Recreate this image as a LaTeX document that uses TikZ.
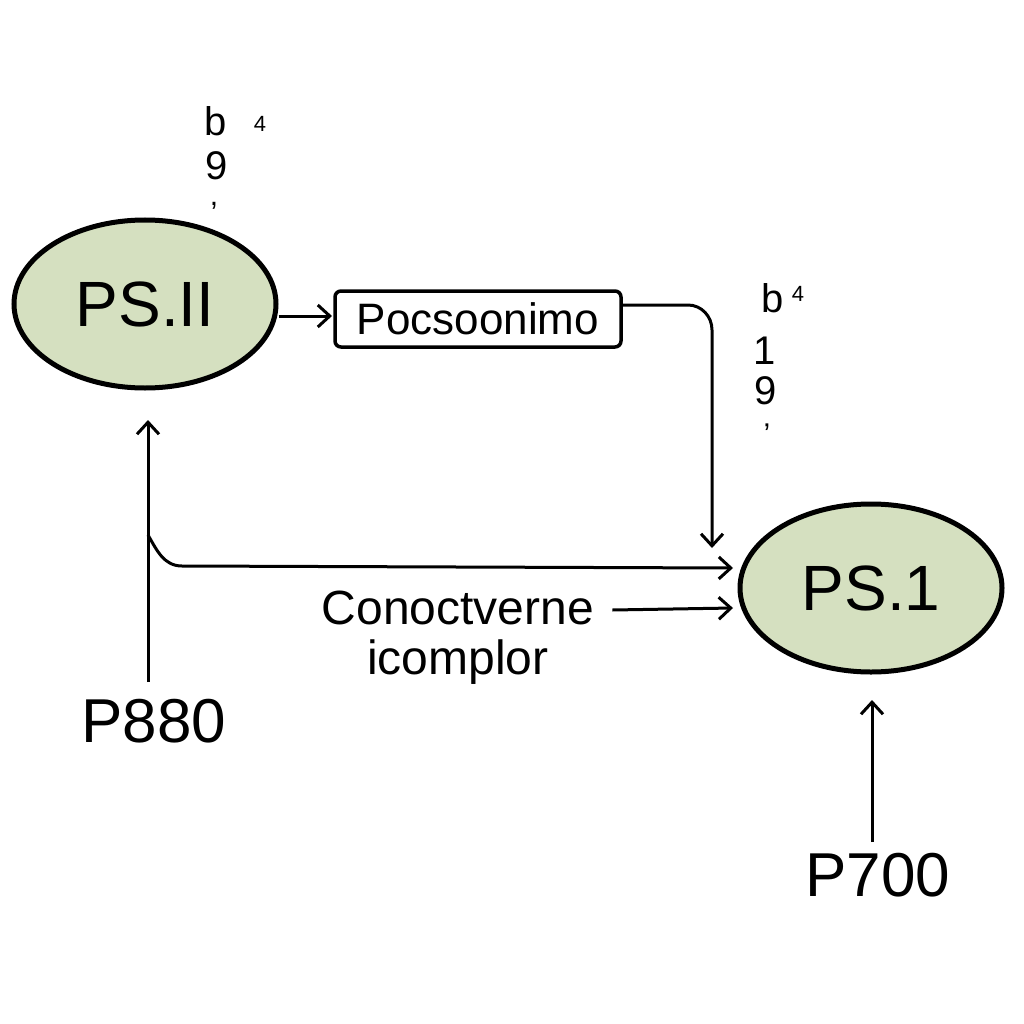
\documentclass[tikz,border=0pt]{standalone}
\usepackage{fontspec}
\setmainfont{Liberation Sans}
\usetikzlibrary{shapes.geometric,arrows.meta}
\definecolor{psgreen}{HTML}{D5E0C0}
\tikzset{
  psnode/.style={ellipse,draw=black,line width=5pt,fill=psgreen,minimum width=262pt,minimum height=168pt,inner sep=0pt,font=\fontsize{64}{68}\selectfont},
  boxnode/.style={draw=black,line width=3.5pt,rounded corners=6pt,minimum width=286pt,minimum height=56pt,inner sep=0pt,font=\fontsize{44}{48}\selectfont},
  lbl/.style={inner sep=0pt,font=\fontsize{62}{66}\selectfont},
  conn/.style={line width=3pt,draw=black},
  arr/.style={conn,-{Straight Barb[length=12pt,width=22pt,line width=3pt]}},
  small/.style={inner sep=0pt,font=\fontsize{40}{42}\selectfont},
  tickmark/.style={inner sep=0pt,font=\fontsize{30}{32}\selectfont},
  tiny/.style={inner sep=0pt,font=\fontsize{22}{24}\selectfont}
}
\begin{document}
\begin{tikzpicture}[x=1pt,y=-1pt]
\useasboundingbox (0,0) rectangle (1024,1024);
\fill[white] (0,0) rectangle (1024,1024);
% nodes
\node[psnode] (ps11) at (145,304) {PS.II};
\node[psnode] (ps1) at (871,588) {PS.1};
\node[boxnode] (box) at (478,319) {Pocsoonimo};
\node[lbl] (p880) at (154,721) {P880};
\node[lbl] (p700) at (878,875) {P700};
\node[inner sep=0pt,align=center,font=\fontsize{48}{50}\selectfont] (conn) at (458,638) {Conoctverne\\icomplor};
% small labels near PS.II
\node[small,anchor=base] (la1) at (216,136) {b};
\node[tiny] (la2) at (260,124) {4};
\node[small,anchor=base] (la3) at (217,180) {9};
\node[tickmark,anchor=north] (la4) at (214,202) {,};
% small labels near PS.1
\node[small,anchor=base] (lb1) at (773,312) {b};
\node[tiny] (lb2) at (798,294) {4};
\node[small,anchor=base] (lb3) at (765,364) {1};
\node[small,anchor=base] (lb4) at (766,404) {9};
\node[tickmark,anchor=north] (lb5) at (767,424) {'};
% coordinates
\coordinate (a1) at (332,316);
\coordinate (t1) at (712,548);
\coordinate (t2) at (733,568);
\coordinate (t3) at (733,608);
\coordinate (t4) at (148,420);
\coordinate (s4) at (148,682);
\coordinate (t5) at (872,700);
\coordinate (s5) at (872,842);
\coordinate (br) at (148,535);
% connectors
\draw[arr] (ps11.east |- a1) -- (a1);
\draw[arr] (box.east |- 0,305) -- (688,305) to[out=0,in=90] (712,330) -- (t1);
\draw[arr] (s4) -- (t4);
\draw[arr] (br) to[out=-60,in=180] (182,566) -- (t2);
\draw[arr] (conn.east |- t3) ++(18,2) -- (t3);
\draw[arr] (s5) -- (t5);
\end{tikzpicture}
\end{document}
